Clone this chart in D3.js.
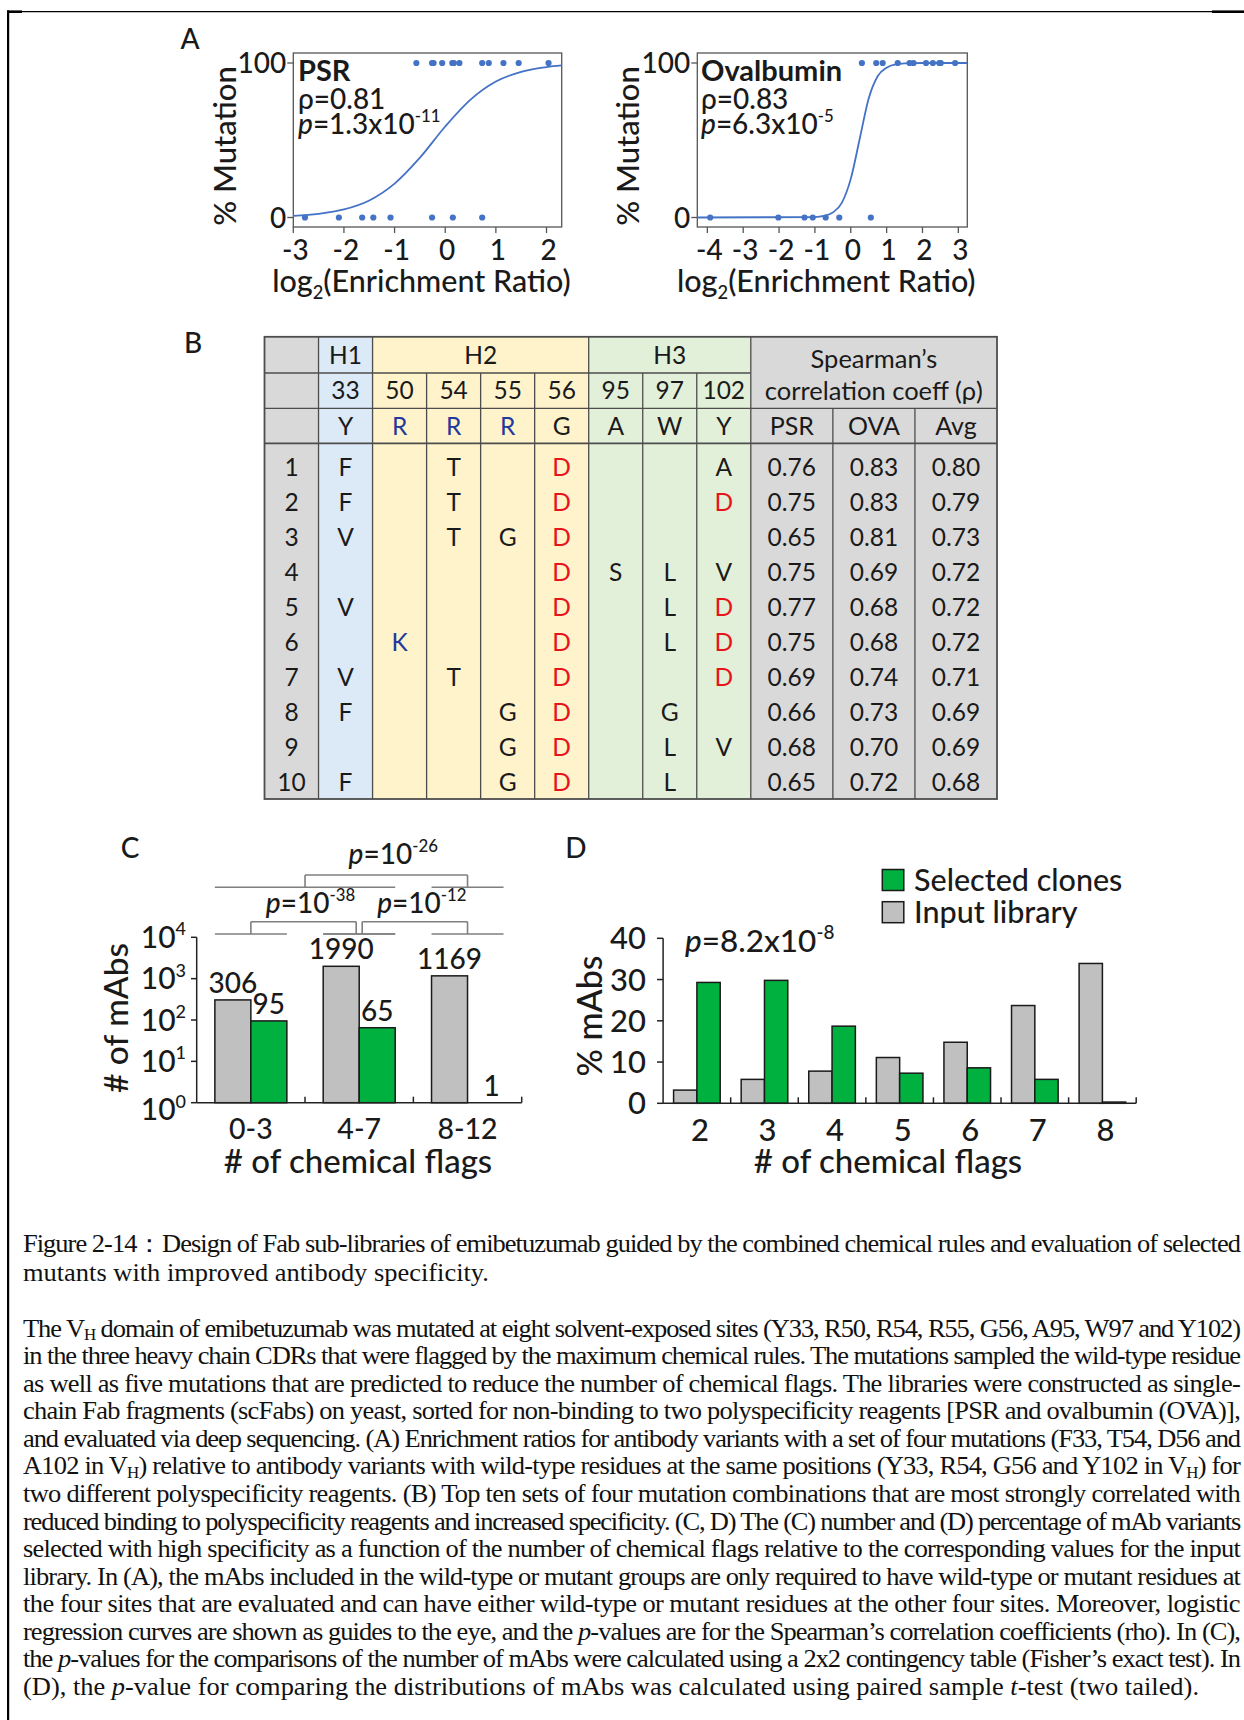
<!DOCTYPE html>
<html><head><meta charset="utf-8">
<script src="https://cdn.jsdelivr.net/npm/d3@7"></script>
<style>
body{margin:0;background:#fff}
#wrap{position:relative;width:1244px;height:1720px}
svg{display:block;position:absolute;left:0;top:0}
#caption{position:absolute;left:23px;top:0;width:1217px}
.cl{position:absolute;left:0;white-space:nowrap;font-family:"Liberation Serif","Times New Roman",serif;font-size:24.8px;line-height:27.4px;color:#111;transform-origin:0 0}
.cl .sb{position:relative;top:0.22em;font-size:0.64em}
</style>
</head><body>
<div id="wrap"><svg id="fig" width="1244" height="1720"></svg><div id="caption"></div></div>
<script>
// ---------------- DATA ----------------
// Panel A: log2 enrichment ratios of variants (top row = mutant 100%, bottom row = wild type 0%)
const psrTopX = [-0.57,-0.26,-0.23,-0.06,0.14,0.17,0.28,0.73,0.86,1.15,1.45,2.04];
const psrBottomX = [-2.77,-2.10,-1.64,-1.42,-1.08,-0.26,0.15,0.73];
const psrCurve = [[-3,1.1],[-2.5,2.4],[-2,5.2],[-1.5,11],[-1,21.9],[-0.5,38.7],[0,58.9],[0.5,76.3],[1,88],[1.5,94.3],[2,97.4],[2.3,98.4]];
const ovaTopX = [0.31,0.71,0.89,1.31,1.64,1.75,2.10,2.29,2.47,2.51,2.91];
const ovaBottomX = [-3.92,-2.02,-1.29,-1.06,-0.70,-0.32,0.56];
const ovaCurve = [[-4.28,0],[-1,0.3],[-0.75,1],[-0.5,3.2],[-0.25,9.5],[0,25],[0.25,51],[0.5,77],[0.75,91.4],[1,97],[1.25,99.1],[1.5,99.7],[2,100],[3.25,100]];
const psrTicks = [-3,-2,-1,0,1,2];
const ovaTicks = [-4,-3,-2,-1,0,1,2,3];
const pctAxisTicks = [0,100];

// Panel B: table
const cdrRegions = ['H1','H2','H2','H2','H2','H3','H3','H3'];
const sitePositions = ['33','50','54','55','56','95','97','102'];
const wildTypeResidues = ['Y','R','R','R','G','A','W','Y'];
const mutationSets = [
  ['F','','T','','D','','','A'],
  ['F','','T','','D','','','D'],
  ['V','','T','G','D','','',''],
  ['','','','','D','S','L','V'],
  ['V','','','','D','','L','D'],
  ['','K','','','D','','L','D'],
  ['V','','T','','D','','','D'],
  ['F','','','G','D','','G',''],
  ['','','','G','D','','L','V'],
  ['F','','','G','D','','L','']
];
const spearmanCols = ['PSR','OVA','Avg'];
const rhoPSR = [0.76,0.75,0.65,0.75,0.77,0.75,0.69,0.66,0.68,0.65];
const rhoOVA = [0.83,0.83,0.81,0.69,0.68,0.68,0.74,0.73,0.70,0.72];
const rhoAvg = [0.80,0.79,0.73,0.72,0.72,0.72,0.71,0.69,0.69,0.68];

// Panel C
const flagGroups = ['0-3','4-7','8-12'];
const inputCounts = [306,1990,1169];
const selectedCounts = [95,65,1];
const logExponents = [0,1,2,3,4];
const cComparisons = [
  {from:['0-3'], to:['4-7'], exp:'-38', level:0},
  {from:['4-7'], to:['8-12'], exp:'-12', level:0},
  {from:['0-3','4-7'], to:['8-12'], exp:'-26', level:1}
];

// Panel D
const flagCounts = ['2','3','4','5','6','7','8'];
const inputPct = [3.2,5.8,7.8,11.1,14.8,23.7,33.9];
const selectedPct = [29.3,29.8,18.7,7.3,8.6,5.8,0.3];
const pctTicks = [0,10,20,30,40];

// Caption (each entry = one printed line; justify = stretch to full width)
const captionLines = [
  {html:'Figure 2-14：Design of Fab sub-libraries of emibetuzumab guided by the combined chemical rules and evaluation of selected', justify:true, y:1252},
  {html:'mutants with improved antibody specificity.', justify:false, y:1280.5}
];
const captionBody = [
  'The V<span class="sb">H</span> domain of emibetuzumab was mutated at eight solvent-exposed sites (Y33, R50, R54, R55, G56, A95, W97 and Y102)',
  'in the three heavy chain CDRs that were flagged by the maximum chemical rules. The mutations sampled the wild-type residue',
  'as well as five mutations that are predicted to reduce the number of chemical flags. The libraries were constructed as single-',
  'chain Fab fragments (scFabs) on yeast, sorted for non-binding to two polyspecificity reagents [PSR and ovalbumin (OVA)],',
  'and evaluated via deep sequencing. (A) Enrichment ratios for antibody variants with a set of four mutations (F33, T54, D56 and',
  'A102 in V<span class="sb">H</span>) relative to antibody variants with wild-type residues at the same positions (Y33, R54, G56 and Y102 in V<span class="sb">H</span>) for',
  'two different polyspecificity reagents. (B) Top ten sets of four mutation combinations that are most strongly correlated with',
  'reduced binding to polyspecificity reagents and increased specificity. (C, D) The (C) number and (D) percentage of mAb variants',
  'selected with high specificity as a function of the number of chemical flags relative to the corresponding values for the input',
  'library. In (A), the mAbs included in the wild-type or mutant groups are only required to have wild-type or mutant residues at',
  'the four sites that are evaluated and can have either wild-type or mutant residues at the other four sites. Moreover, logistic',
  'regression curves are shown as guides to the eye, and the <i>p</i>-values are for the Spearman’s correlation coefficients (rho). In (C),',
  'the <i>p</i>-values for the comparisons of the number of mAbs were calculated using a 2x2 contingency table (Fisher’s exact test). In',
  '(D), the <i>p</i>-value for comparing the distributions of mAbs was calculated using paired sample <i>t</i>-test (two tailed).'
];

// ---------------- DRAW ----------------
const svg = d3.select('#fig');
const FONT = 'Lato, "Open Sans", "DejaVu Sans", sans-serif';
const INK = '#1a1a1a';
const W500 = 500;

function rich(g, x, y, parts, size, anchor, weight) {
  const t = g.append('text').attr('x', x).attr('y', y).attr('font-size', size)
    .attr('font-family', FONT).attr('text-anchor', anchor || 'start').attr('fill', INK)
    .attr('font-weight', weight || W500);
  let shift = 0;
  parts.forEach(p => {
    const s = t.append('tspan').text(p.t);
    let target = 0;
    if (p.sup) target = -size * 0.42;
    if (p.sub) target = size * 0.22;
    if (target - shift !== 0) s.attr('dy', target - shift);
    shift = target;
    if (p.sup || p.sub) s.attr('font-size', size * 0.6);
    if (p.i) s.attr('font-style', 'italic');
    if (p.b) s.attr('font-weight', 'bold');
  });
  return t;
}
function label(g, x, y, txt, size, anchor, weight) {
  return g.append('text').attr('x', x).attr('y', y).attr('text-anchor', anchor || 'middle').attr('font-size', size)
    .attr('font-family', FONT).attr('font-weight', weight || W500).attr('fill', INK).text(txt);
}
function vtitle(g, x, y, txt, size) {
  g.append('text').attr('transform', `translate(${x},${y}) rotate(-90)`).attr('text-anchor', 'middle')
    .attr('dy', '0.35em').attr('font-size', size).attr('font-family', FONT).attr('font-weight', W500).attr('fill', INK).text(txt);
}

// frame
svg.append('line').attr('x1', 8).attr('x2', 1244).attr('y1', 11.6).attr('y2', 11.6).attr('stroke', '#000').attr('stroke-width', 1.2);
svg.append('rect').attr('x', 7).attr('y', 10.4).attr('width', 15).attr('height', 2.6).attr('fill', '#000');
svg.append('rect').attr('x', 1212).attr('y', 10.4).attr('width', 32).attr('height', 2.6).attr('fill', '#000');
svg.append('rect').attr('x', 7).attr('y', 10.4).attr('width', 2.2).attr('height', 1710).attr('fill', '#000');

// panel letters
[['A',190,49],['B',193,353],['C',130,858],['D',576,858]].forEach(([t,x,y]) => label(svg, x, y, t, 28));

// ---- Panel A ----
function logisticPanel(cfg) {
  const g = svg.append('g');
  const top = 53, bottom = 227;
  const x = d3.scaleLinear().domain(cfg.xDomain).range([cfg.left, cfg.right]);
  const y = d3.scaleLinear().domain([0, 100]).range([217.5, 63]);
  const blue = '#4472c4';
  g.append('rect').attr('x', cfg.left).attr('y', top).attr('width', cfg.right - cfg.left).attr('height', bottom - top)
    .attr('fill', 'none').attr('stroke', '#555').attr('stroke-width', 1.3);
  pctAxisTicks.forEach(v => {
    g.append('line').attr('x1', cfg.left - 6).attr('x2', cfg.left).attr('y1', y(v)).attr('y2', y(v)).attr('stroke', '#555').attr('stroke-width', 1.3);
    label(g, cfg.left - 7, y(v) + 10, v, 28, 'end');
  });
  cfg.ticks.forEach(v => {
    g.append('line').attr('x1', x(v)).attr('x2', x(v)).attr('y1', bottom).attr('y2', bottom + 6).attr('stroke', '#555').attr('stroke-width', 1.3);
    label(g, x(v) + 2, 260, v, 28);
  });
  const line = d3.line().x(d => x(d[0])).y(d => y(d[1])).curve(d3.curveMonotoneX);
  g.append('path').attr('d', line(cfg.curve)).attr('fill', 'none').attr('stroke', blue).attr('stroke-width', 1.8);
  cfg.topX.forEach(v => g.append('circle').attr('cx', x(v)).attr('cy', y(100)).attr('r', 3.1).attr('fill', blue));
  cfg.bottomX.forEach(v => g.append('circle').attr('cx', x(v)).attr('cy', y(0)).attr('r', 3.1).attr('fill', blue));
  rich(g, cfg.textX, 81, [{t: cfg.name}], 29, 'start', 700);
  rich(g, cfg.textX, 109, [{t: 'ρ=' + cfg.rho}], 28);
  rich(g, cfg.textX, 134, [{t: 'p', i: true}, {t: '=' + cfg.pm + 'x10'}, {t: cfg.pe, sup: true}], 28);
  vtitle(g, cfg.yTitleX, 146, '% Mutation', 31);
  rich(g, (cfg.left + cfg.right) / 2 - 6, 292, [{t: 'log'}, {t: '2', sub: true}, {t: '(Enrichment Ratio)'}], 30.5, 'middle');
}
logisticPanel({xDomain: [-3, 2.3], left: 293.3, right: 561.7, ticks: psrTicks, topX: psrTopX, bottomX: psrBottomX,
  curve: psrCurve, name: 'PSR', rho: '0.81', pm: '1.3', pe: '-11', textX: 298, yTitleX: 225});
logisticPanel({xDomain: [-4.28, 3.25], left: 697.3, right: 967.3, ticks: ovaTicks, topX: ovaTopX, bottomX: ovaBottomX,
  curve: ovaCurve, name: 'Ovalbumin', rho: '0.83', pm: '6.3', pe: '-5', textX: 701, yTitleX: 628});

// ---- Panel B ----
(function () {
  const g = svg.append('g');
  const colX = d3.scaleBand().domain(d3.range(sitePositions.length + 1)).range([264.5, 750.8]);
  const spX = d3.scaleBand().domain(spearmanCols).range([750.8, 997]);
  const rowY = d3.scaleBand().domain(d3.range(mutationSets.length)).range([449.5, 799.5]);
  const tTop = 336.8, tH1 = 373, tH2 = 408.3, tH3 = 443.3, tBot = 799;
  const bw = colX.bandwidth();
  const regionFill = {H1: '#dce9f7', H2: '#fff3cc', H3: '#e2f0d9'};
  const gray = '#d9d9d9', lineC = '#4d4d4d';
  g.append('rect').attr('x', colX(0)).attr('y', tTop).attr('width', bw).attr('height', tBot - tTop).attr('fill', gray);
  sitePositions.forEach((s, i) => g.append('rect').attr('x', colX(i + 1)).attr('y', tTop).attr('width', bw + 0.5)
    .attr('height', tBot - tTop).attr('fill', regionFill[cdrRegions[i]]));
  g.append('rect').attr('x', 750.8).attr('y', tTop).attr('width', 997 - 750.8).attr('height', tBot - tTop).attr('fill', gray);
  const hl = (x1, x2, y, w) => g.append('line').attr('x1', x1).attr('x2', x2).attr('y1', y).attr('y2', y).attr('stroke', lineC).attr('stroke-width', w || 1.3);
  const vl = (x, y1, y2) => g.append('line').attr('x1', x).attr('x2', x).attr('y1', y1).attr('y2', y2).attr('stroke', lineC).attr('stroke-width', 1.3);
  hl(264.5, 750.8, tH1); hl(264.5, 997, tH2); hl(264.5, 997, tH3, 1.8);
  for (let i = 1; i <= sitePositions.length; i++) {
    const newRegion = i === 1 || cdrRegions[i - 1] !== cdrRegions[i - 2];
    vl(colX(i), newRegion ? tTop : tH1, tBot);
  }
  vl(750.8, tTop, tBot);
  spearmanCols.slice(1).forEach(c => vl(spX(c), tH2, tBot));
  g.append('rect').attr('x', 264.5).attr('y', tTop).attr('width', 997 - 264.5).attr('height', tBot - tTop)
    .attr('fill', 'none').attr('stroke', lineC).attr('stroke-width', 1.8);

  const cell = (x, yc, txt, color, size) => g.append('text').attr('x', x).attr('y', yc + 0.36 * (size || 24.5)).attr('text-anchor', 'middle')
    .attr('font-size', size || 24.5).attr('font-family', FONT).attr('fill', color || INK).text(txt);
  const resColor = r => r === 'D' ? '#e8141c' : (r === 'R' || r === 'K') ? '#1f3a9c' : INK;
  ['H1', 'H2', 'H3'].forEach(r => {
    const idx = cdrRegions.map((d, i) => d === r ? i : -1).filter(i => i >= 0);
    const x1 = colX(idx[0] + 1), x2 = colX(idx[idx.length - 1] + 1) + bw;
    cell((x1 + x2) / 2, (tTop + tH1) / 2, r);
  });
  sitePositions.forEach((s, i) => cell(colX(i + 1) + bw / 2, (tH1 + tH2) / 2, s));
  wildTypeResidues.forEach((s, i) => cell(colX(i + 1) + bw / 2, (tH2 + tH3) / 2, s, resColor(s)));
  const spMid = (750.8 + 997) / 2;
  cell(spMid, 359, 'Spearman’s', INK, 25.5);
  cell(spMid, 391, 'correlation coeff (ρ)', INK, 25.5);
  spearmanCols.forEach(c => cell(spX(c) + spX.bandwidth() / 2, (tH2 + tH3) / 2, c, INK, 25));
  mutationSets.forEach((row, r) => {
    const yc = rowY(r) + rowY.bandwidth() / 2;
    cell(colX(0) + bw / 2, yc, r + 1);
    row.forEach((m, i) => { if (m) cell(colX(i + 1) + bw / 2, yc, m, resColor(m)); });
    [rhoPSR, rhoOVA, rhoAvg].forEach((arr, k) => cell(spX(spearmanCols[k]) + spX.bandwidth() / 2, yc, arr[r].toFixed(2)));
  });
})();

// ---- Panel C ----
(function () {
  const g = svg.append('g');
  const x = d3.scaleBand().domain(flagGroups).range([196.7, 521.7]);
  const y = d3.scaleLog().domain([1, 1e4]).range([1102.7, 937.3]);
  const bw = x.bandwidth();
  const sub = d3.scaleBand().domain(['input', 'selected']).range([bw / 2 - 36, bw / 2 + 36]);
  const axC = '#222';
  flagGroups.forEach((grp, i) => {
    [['input', inputCounts[i], '#c0c0c0'], ['selected', selectedCounts[i], '#00b140']].forEach(([k, v, col]) => {
      const bx = x(grp) + sub(k);
      if (v > 1) g.append('rect').attr('x', bx).attr('y', y(v)).attr('width', sub.bandwidth()).attr('height', y(1) - y(v))
        .attr('fill', col).attr('stroke', '#1a1a1a').attr('stroke-width', 1.5);
      label(g, bx + sub.bandwidth() / 2 + (v > 1 ? 0 : 6), y(v) - 7, v, 28);
    });
    label(g, x(grp) + bw / 2, 1139, grp, 28.5);
  });
  g.append('line').attr('x1', 196.7).attr('x2', 196.7).attr('y1', y(1e4)).attr('y2', y(1)).attr('stroke', axC).attr('stroke-width', 1.5);
  g.append('line').attr('x1', 196.7).attr('x2', 521.7).attr('y1', y(1)).attr('y2', y(1)).attr('stroke', axC).attr('stroke-width', 1.5);
  flagGroups.slice(1).map(d => x(d)).concat([521.7]).forEach(bx =>
    g.append('line').attr('x1', bx).attr('x2', bx).attr('y1', y(1)).attr('y2', y(1) - 6).attr('stroke', axC).attr('stroke-width', 1.5));
  logExponents.forEach(e => {
    const v = Math.pow(10, e);
    g.append('line').attr('x1', 191).attr('x2', 196.7).attr('y1', y(v)).attr('y2', y(v)).attr('stroke', axC).attr('stroke-width', 1.5);
    rich(g, 186, y(v) + 10.5 + (e === 0 ? 7 : 0), [{t: '10'}, {t: String(e), sup: true}], 30, 'end');
  });
  vtitle(g, 116, 1018, '# of mAbs', 33.5);
  label(g, 358, 1173, '# of chemical flags', 33);
  // significance brackets
  const lvl = [{base: 934, top: 921.7, label: 913}, {base: 887.3, top: 875, label: 864}];
  const brC = '#7f7f7f';
  const span = set => [x(set[0]) + bw / 2 - 36, x(set[set.length - 1]) + bw / 2 + 36];
  const seg = (x1, y1, x2, y2) => g.append('line').attr('x1', x1).attr('x2', x2).attr('y1', y1).attr('y2', y2).attr('stroke', brC).attr('stroke-width', 1.6);
  cComparisons.forEach(c => {
    const L = lvl[c.level];
    const a = span(c.from), b = span(c.to);
    const shared = cComparisons.filter(o => o.level === c.level);
    let xa = (a[0] + a[1]) / 2, xb = (b[0] + b[1]) / 2;
    if (shared.some(o => o !== c && o.from.join() === c.to.join())) xb -= 3;
    if (shared.some(o => o !== c && o.to.join() === c.from.join())) xa += 3;
    seg(a[0], L.base, a[1], L.base); seg(b[0], L.base, b[1], L.base);
    seg(xa, L.base, xa, L.top); seg(xb, L.base, xb, L.top); seg(xa, L.top, xb, L.top);
    rich(g, (xa + xb) / 2 + 7, L.label, [{t: 'p', i: true}, {t: '=10'}, {t: c.exp, sup: true}], 28, 'middle');
  });
})();

// ---- Panel D ----
(function () {
  const g = svg.append('g');
  const x = d3.scaleBand().domain(flagCounts).range([663.1, 1136.2]);
  const y = d3.scaleLinear().domain([0, 40]).range([1103.3, 938.3]);
  const bw = x.bandwidth();
  const sub = d3.scaleBand().domain(['input', 'selected']).range([bw / 2 - 23.3, bw / 2 + 23.3]);
  const axC = '#222';
  flagCounts.forEach((f, i) => {
    [['input', inputPct[i], '#c0c0c0'], ['selected', selectedPct[i], '#00b140']].forEach(([k, v, col]) => {
      g.append('rect').attr('x', x(f) + sub(k)).attr('y', y(v)).attr('width', sub.bandwidth()).attr('height', y(0) - y(v))
        .attr('fill', col).attr('stroke', '#1a1a1a').attr('stroke-width', 1.5);
    });
    label(g, x(f) + bw / 2 + 3, 1141, f, 31);
  });
  g.append('line').attr('x1', 663.1).attr('x2', 663.1).attr('y1', y(40)).attr('y2', y(0)).attr('stroke', axC).attr('stroke-width', 1.5);
  g.append('line').attr('x1', 663.1).attr('x2', 1136.2).attr('y1', y(0)).attr('y2', y(0)).attr('stroke', axC).attr('stroke-width', 1.5);
  flagCounts.slice(1).map(d => x(d)).concat([1136.2]).forEach(bx =>
    g.append('line').attr('x1', bx).attr('x2', bx).attr('y1', y(0)).attr('y2', y(0) - 6).attr('stroke', axC).attr('stroke-width', 1.5));
  pctTicks.forEach(v => {
    g.append('line').attr('x1', 657).attr('x2', 663.1).attr('y1', y(v)).attr('y2', y(v)).attr('stroke', axC).attr('stroke-width', 1.5);
    label(g, 646, y(v) + 11, v, 31, 'end');
  });
  vtitle(g, 590, 1016, '% mAbs', 34);
  label(g, 888, 1173, '# of chemical flags', 33);
  rich(g, 685, 952, [{t: 'p', i: true}, {t: '=8.2x10'}, {t: '-8', sup: true}], 31.5);
  [['Selected clones', '#00b140', 869.5], ['Input library', '#c0c0c0', 901.7]].forEach(([lab, col, yy]) => {
    g.append('rect').attr('x', 882.3).attr('y', yy).attr('width', 21.5).attr('height', 21).attr('fill', col)
      .attr('stroke', '#1a1a1a').attr('stroke-width', 1.5);
    label(g, 914, yy + 21, lab, 30.5, 'start');
  });
})();

// ---- Caption (HTML text, one block per printed line) ----
(function () {
  const cap = d3.select('#caption');
  const sx = 1.066, W = 1217 / sx;
  const lines = captionLines.concat(captionBody.map((h, i) => ({html: h, justify: i < captionBody.length - 1, y: 1336.5 + i * 27.58})));
  lines.forEach(L => {
    const div = cap.append('div').attr('class', 'cl').style('top', (L.y - 22.0) + 'px')
      .style('transform', `scaleX(${sx})`).html(L.html);
    if (L.justify) {
      const node = div.node();
      const range = document.createRange(); range.selectNodeContents(node);
      const natural = range.getBoundingClientRect().width / sx;
      const n = (node.textContent.match(/ /g) || []).length;
      if (natural < W && n > 0) div.style('word-spacing', ((W - natural) / n) + 'px');
      else if (natural > W) div.style('letter-spacing', ((W - natural) / node.textContent.length) + 'px');
    }
  });
})();
</script>
</body></html>
